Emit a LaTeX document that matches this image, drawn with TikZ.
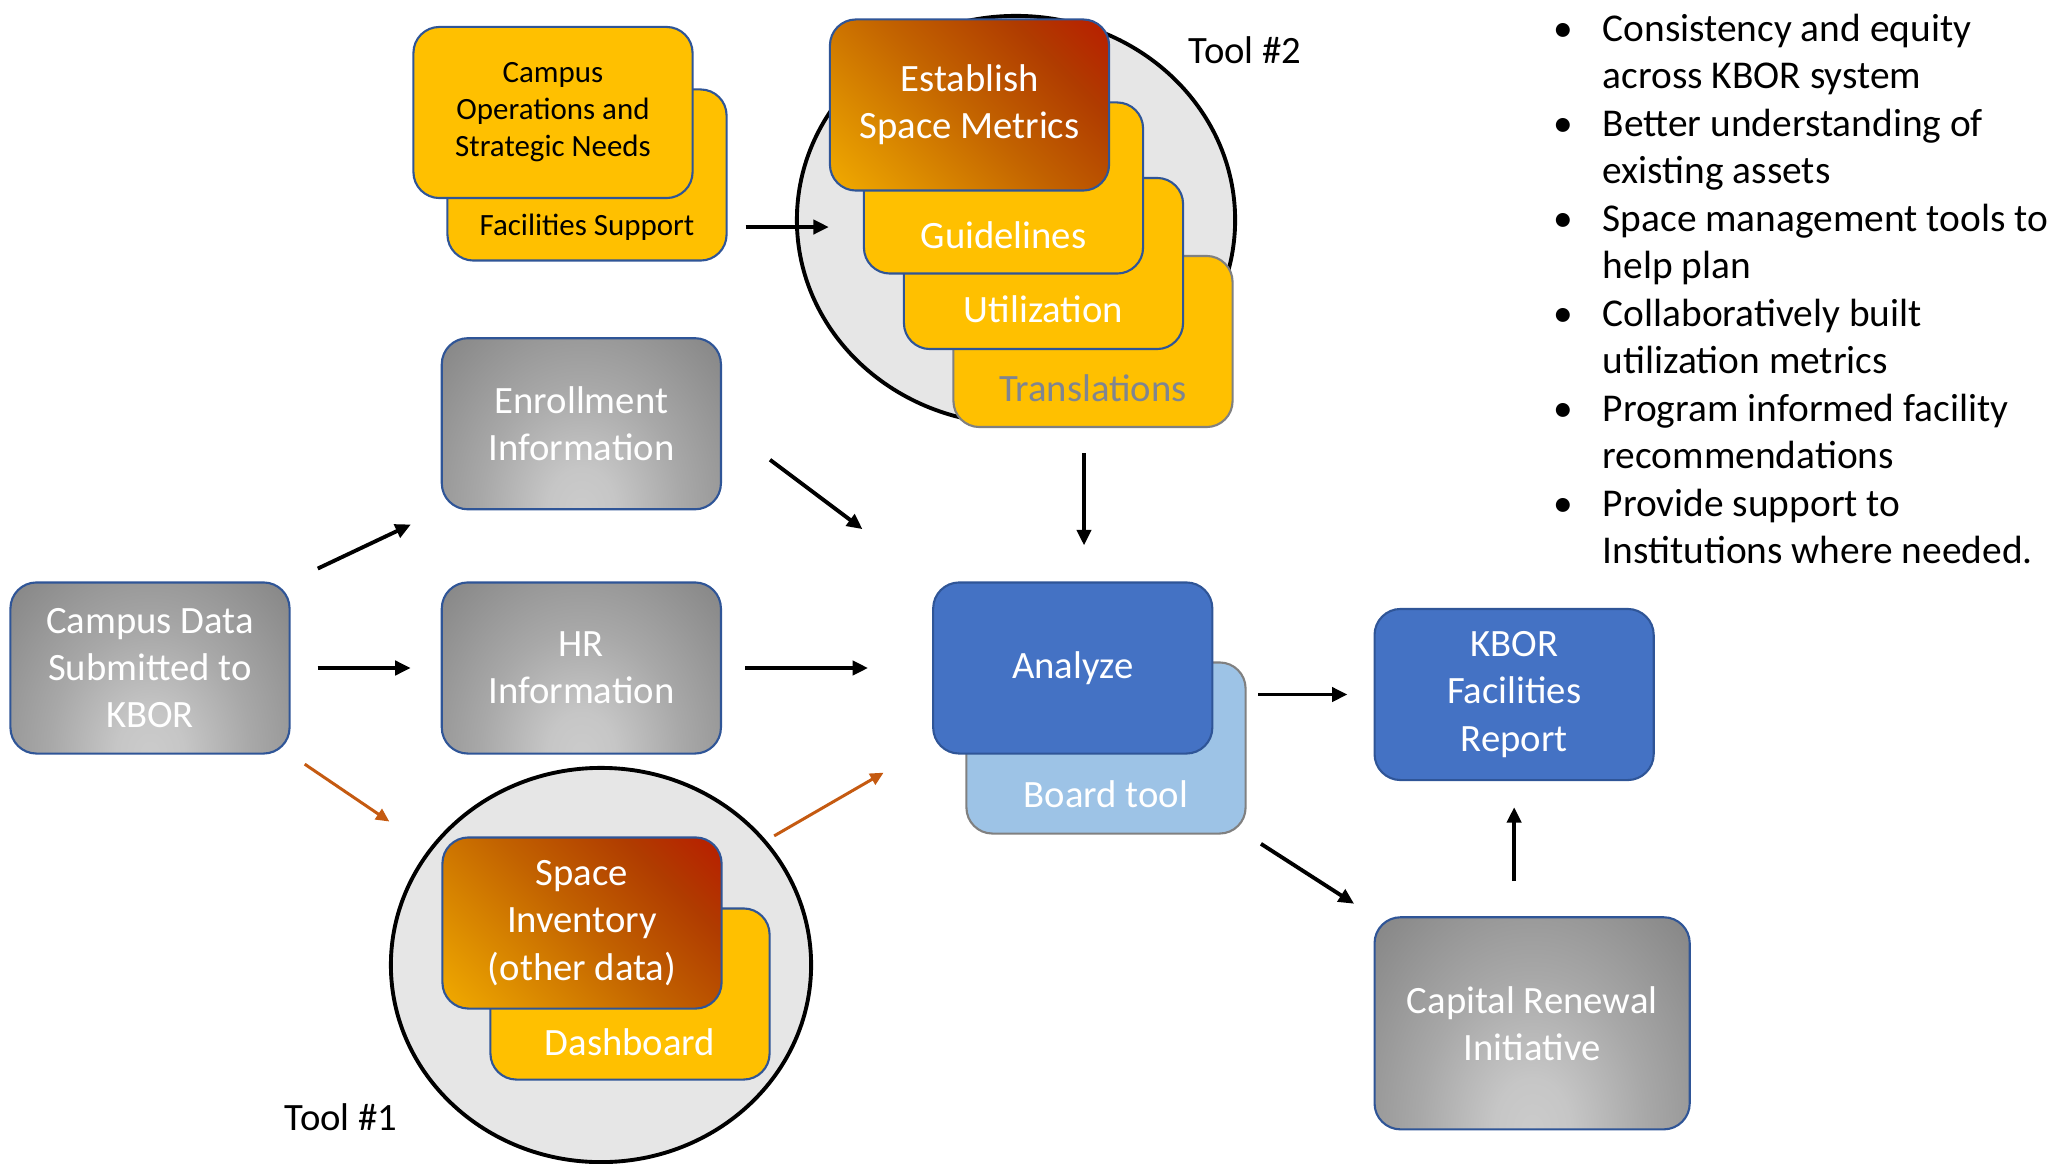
\documentclass[tikz,border=0pt]{standalone}
\usepackage{fontspec}
\setmainfont{Carlito}
\usetikzlibrary{shapes,arrows.meta,positioning,calc}

\definecolor{cardgold}{HTML}{FFC000}
\definecolor{cardedge}{HTML}{2F5597}
\definecolor{cardblue}{HTML}{4472C4}
\definecolor{cardsky}{HTML}{9DC3E6}
\definecolor{ringgrey}{HTML}{E6E6E6}
\definecolor{flowrust}{HTML}{C55A11}
\definecolor{mutedtext}{HTML}{7F8591}
% fire gradient
\definecolor{fire0}{HTML}{FFC000}
\definecolor{fire1}{HTML}{F5B000}
\definecolor{fire2}{HTML}{DC8C00}
\definecolor{fire3}{HTML}{C26200}
\definecolor{fire4}{HTML}{B03C00}
\definecolor{fire5}{HTML}{B81E00}
\definecolor{fire6}{HTML}{C00000}
% grey glow
\definecolor{glow0}{HTML}{CBCBCB}
\definecolor{glow1}{HTML}{C6C6C6}
\definecolor{glow2}{HTML}{A8A8A8}
\definecolor{glow3}{HTML}{868686}
\definecolor{glow4}{HTML}{7C7C7C}
\definecolor{glow5}{HTML}{686868}
\definecolor{glow6}{HTML}{606060}

\pgfdeclarehorizontalshading{fireglow}{100bp}{%
        color(0bp)=(fire0); color(12bp)=(fire1); color(30bp)=(fire2);
        color(50bp)=(fire3); color(70bp)=(fire4); color(85bp)=(fire5);
        color(100bp)=(fire6)}
\pgfdeclareradialshading{greyglow}{\pgfpoint{0bp}{0bp}}{%
        color(0bp)=(glow0); color(6bp)=(glow1); color(18bp)=(glow2);
        color(35bp)=(glow3); color(40bp)=(glow4); color(50bp)=(glow5);
        color(60bp)=(glow6)}

\tikzstyle{card} =
        [
                rectangle,
                draw = cardedge,
                line width = 0.6pt,
                rounded corners = 0.26cm,
                minimum width = 2.79cm,
                minimum height = 1.71cm,
                align = center
        ]
\tikzstyle{goldcard} = [card, fill = cardgold]
\tikzstyle{firecard} =
        [
                card,
                text = white,
                shading = fireglow,
                shading angle = 45
        ]
\tikzstyle{greycard} =
        [
                card,
                text = white,
                path picture = {
                        \shade [shading = greyglow]
                                ($(path picture bounding box.north west)!2!(path picture bounding box.south west)$)
                                rectangle (path picture bounding box.north east);
                }
        ]
\tikzstyle{bluecard} = [card, text = white, fill = cardblue]
\tikzstyle{skycard} = [card, draw = gray, fill = cardsky]
\tikzstyle{smalltext} = [font = \fontsize{8.8}{10.5}\selectfont]
\tikzstyle{toolring} =
        [
                ellipse,
                draw = black,
                line width = 1.1pt,
                fill = ringgrey
        ]
\tikzstyle{line} =
        [
                line width = 1.1pt,
                draw = black,
                -{Triangle[length = 4.4pt, width = 4pt]}
        ]
\tikzstyle{rustline} =
        [
                line width = 0.85pt,
                draw = flowrust,
                -{Triangle[length = 3.8pt, width = 3.5pt]}
        ]

\begin{document}
\begin{tikzpicture}[x = 0.01cm, y = -0.01cm, font = \fontsize{11}{13.4}\selectfont]
    \useasboundingbox (0,0) rectangle (2055,1164);

    % the two tools
    \node [toolring, minimum width = 4.38cm, minimum height = 4.08cm] (tool2) at (1016,220) {};
    \node [toolring, minimum width = 4.2cm, minimum height = 3.94cm] (tool1) at (601,965) {};
    \node (tool2label) at (1245,50) {Tool \#2};
    \node (tool1label) at (341,1117) {Tool \#1};

    \node [goldcard, draw = gray, label = {[mutedtext, yshift = -0.47cm]center:Translations}] (translations) at (1093,341.5) {};
    \node [goldcard, label = {[white, yshift = -0.455cm]center:Utilization}] (utilization) at (1043.5,263.5) {};
    \node [goldcard, label = {[white, yshift = -0.47cm]center:Guidelines}] (guidelines) at (1003.5,188) {};
    \node [firecard] (metrics) at (969.5,105) {Establish\\Space Metrics};

    \node [goldcard, label = {[smalltext, yshift = -0.52cm]center:Facilities Support}] (facsupport) at (587,175) {};
    \node [goldcard, smalltext] (operations) at (553,112.5) {Campus\\Operations and\\Strategic Needs};

    % campus data
    \node [greycard] (campus) at (150,668) {Campus Data\\Submitted to\\KBOR};
    \node [greycard, right = 1.5cm of campus] (hr) {HR\\Information};
    \node [greycard, above = 0.71cm of hr] (enrollment) {Enrollment\\Information};

    \node [goldcard, label = {[white, yshift = -0.48cm]center:Dashboard}] (dashboard) at (630,994) {};
    \node [firecard] (inventory) at (582,923) {Space\\Inventory\\(other data)};

    \node [skycard, label = {[white, yshift = -0.46cm]center:Board tool}] (boardtool) at (1106,748) {};
    \node [bluecard, right = 2.1cm of hr] (analyze) {Analyze};
    \node [bluecard, right = 1.6cm of analyze, yshift = -0.265cm] (kbor) {KBOR\\Facilities\\Report};
    \node [greycard, minimum width = 3.15cm, minimum height = 2.12cm, below right = 1.35cm and 0cm of kbor.south west] (capital) {Capital Renewal\\Initiative};

    \node [anchor = base west, inner sep = 0pt, font = \fontsize{11.2}{13.5}\selectfont] (benefits) at (1553,41.5) {%
        \begin{tabular}[t]{@{}p{0.49cm}@{}l@{}}
            \textbullet & Consistency and equity\\
                        & across KBOR system\\
            \textbullet & Better understanding of\\
                        & existing assets\\
            \textbullet & Space management tools to\\
                        & help plan\\
            \textbullet & Collaboratively built\\
                        & utilization metrics\\
            \textbullet & Program informed facility\\
                        & recommendations\\
            \textbullet & Provide support to\\
                        & Institutions where needed.
        \end{tabular}};

    % flow
    \path [line, shorten <= 0.3cm, shorten >= 0.33cm] (campus.north east) -- (enrollment.south west);
    \path [line, shorten <= 0.27cm, shorten >= 0.3cm] (campus) -- (hr);
    \path [rustline, shorten <= 0.17cm, shorten >= 0.48cm] (campus.south east) -- (tool1);
    \path [line, shorten <= 0.6cm, shorten >= 0.87cm] (enrollment.east) -- (analyze.north west);
    \path [line, shorten <= 0.23cm, shorten >= 0.64cm] (hr) -- (analyze);
    \path [rustline, shorten <= 0.09cm, shorten >= 0.56cm] (tool1.37) -- ([yshift = 0.1cm]analyze.south west);
    \path [line, shorten <= 0.18cm] ([yshift = -0.52cm]facsupport.east) -- ([yshift = -0.52cm]facsupport.east -| metrics.west);
    \path [line, shorten <= 0.25cm, shorten >= 0.36cm] ([xshift = -0.09cm]translations.south) -- ([xshift = -0.09cm]translations.south |- analyze.north);
    \path [line, shorten <= 0.45cm, shorten >= 0.26cm] (analyze.east |- kbor.west) -- (kbor.west);
    \path [line, shorten <= 0.17cm, shorten >= 0.23cm] (boardtool.south east) -- (capital.north west);
    \path [line, shorten <= 0.35cm, shorten >= 0.26cm] (kbor.south |- capital.north) -- (kbor.south);
\end{tikzpicture}
\end{document}
